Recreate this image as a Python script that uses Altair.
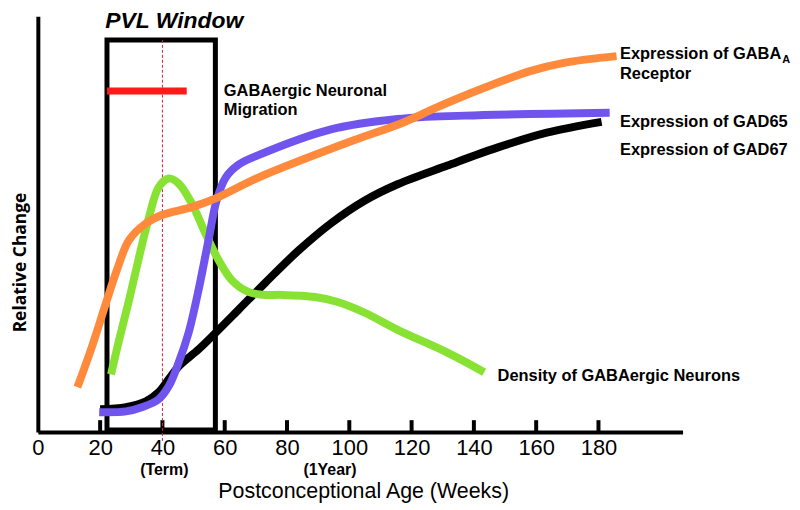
import altair as alt
import pandas as pd

# ---- data (x: postconceptional age in weeks, y: relative change 0-100) ----
gaba_a_x = [12.7, 17.4, 21.9, 25.4, 29.3, 34.7, 39.8, 49.4, 57.1, 70.8, 101.2, 115.5, 126.1, 131.5, 147.5, 158.0, 168.9, 185.8]
gaba_a_y = [10.8, 20.6, 31.1, 39.0, 46.2, 50.2, 52.2, 54.1, 56.2, 61.2, 70.1, 73.9, 77.4, 79.2, 84.0, 86.8, 88.8, 90.4]

gad65_x = [19.7, 28.3, 33.4, 38.8, 42.0, 45.2, 48.4, 51.6, 54.8, 57.4, 60.3, 64.4, 70.8, 94.1, 115.5, 136.9, 183.6]
gad65_y = [4.8, 5.0, 6.0, 7.9, 11.0, 16.7, 23.9, 34.2, 46.2, 55.7, 61.2, 64.3, 66.6, 72.8, 75.3, 76.1, 76.8]

gad67_x = [20.0, 28.3, 34.7, 38.8, 42.0, 45.2, 51.6, 57.1, 64.4, 73.0, 83.6, 94.1, 105.0, 115.5, 131.5, 147.5, 163.4, 181.0]
gad67_y = [5.5, 6.0, 7.4, 9.6, 12.7, 15.8, 19.9, 23.9, 29.4, 35.9, 43.6, 50.2, 55.7, 59.6, 64.1, 68.4, 72.0, 74.6]

density_x = [23.5, 26.1, 29.3, 32.5, 35.7, 38.8, 42.0, 45.2, 49.4, 53.8, 58.0, 62.2, 67.6, 72.4, 78.1, 89.0, 96.3, 105.0, 115.5, 131.5, 143.3]
density_y = [13.9, 22.2, 31.8, 42.1, 51.7, 58.9, 61.0, 59.8, 55.0, 47.8, 41.4, 36.6, 33.7, 33.0, 33.0, 32.5, 31.3, 28.7, 24.6, 19.1, 14.4]

tick_values = [20, 40, 60, 80, 100, 120, 140, 160, 180]
label_values = [0, 20, 40, 60, 80, 100, 120, 140, 160, 180]

pvl_window = {"x": 22.2, "x2": 57.0, "y": 0.5, "y2": 94.3}
migration = {"x": 22.2, "x2": 47.8, "y": 82.0}
term_week = 40

FONT = "Liberation Sans"
X_MAX = 207
W, H = 648, 418

xs = alt.Scale(domain=[0, X_MAX], nice=False, zero=False)
ys = alt.Scale(domain=[0, 100], nice=False, zero=False)

x_axis = alt.Axis(
    values=label_values, ticks=False, grid=False, domainWidth=4, domainColor="black",
    labelFont=FONT, labelFontSize=22, labelColor="black", labelPadding=5,
    labelFlush=False, labelOverlap=False,
    title="Postconceptional Age (Weeks)", titleFont=FONT, titleFontSize=21.5,
    titleFontWeight="normal", titleColor="black", titleX=327, titleY=60,
    titleBaseline="middle", titleAlign="center")

y_axis = alt.Axis(
    ticks=False, labels=False, grid=False, domainWidth=4, domainColor="black",
    title="Relative Change", titleFont="Open Sans", titleFontSize=17.5,
    titleFontWeight="bold", titleColor="black", titleAngle=270,
    titleX=-17, titleY=247, titleAlign="center", titleBaseline="middle")


def X(field="x"):
    return alt.X(f"{field}:Q", scale=xs, axis=x_axis)


def Y(field="y"):
    return alt.Y(f"{field}:Q", scale=ys, axis=y_axis)


def curve(xv, yv, color):
    df = pd.DataFrame({"x": xv, "y": yv})
    return alt.Chart(df).mark_line(
        color=color, strokeWidth=8, interpolate="catmull-rom", strokeCap="butt"
    ).encode(x=X(), y=Y())


ticks = alt.Chart(pd.DataFrame({"x": tick_values})).mark_rule(
    color="black", strokeWidth=4
).encode(x=X(), y=alt.value(H), y2=alt.value(H - 12))

box = alt.Chart(pd.DataFrame([pvl_window])).mark_rect(
    filled=False, stroke="black", strokeWidth=5
).encode(x=X(), x2="x2:Q", y=Y(), y2="y2:Q")

red_bar = alt.Chart(pd.DataFrame([migration])).mark_rule(
    color="#ff1a1a", strokeWidth=7
).encode(x=X(), x2="x2:Q", y=Y())

term_line = alt.Chart(pd.DataFrame({"x": [term_week], "y": [pvl_window["y2"]], "y2": [-2.4]})).mark_rule(
    color="#d0204a", strokeWidth=1, strokeDash=[3, 2]
).encode(x=X(), y=Y(), y2="y2:Q")

ann = pd.DataFrame([
    {"x": 43.8, "y": 98.8, "t": "PVL Window", "s": 23, "st": "italic", "al": "center"},
    {"x": 59.7, "y": 82.1, "t": "GABAergic Neuronal", "s": 16.5, "st": "normal", "al": "left"},
    {"x": 59.7, "y": 77.5, "t": "Migration", "s": 16.5, "st": "normal", "al": "left"},
    {"x": 186.9, "y": 90.9, "t": "Expression of GABA", "s": 16.5, "st": "normal", "al": "left"},
    {"x": 239.0, "y": 89.4, "t": "A", "s": 11, "st": "normal", "al": "left"},
    {"x": 186.9, "y": 86.1, "t": "Receptor", "s": 16.5, "st": "normal", "al": "left"},
    {"x": 186.9, "y": 74.6, "t": "Expression of GAD65", "s": 16.5, "st": "normal", "al": "left"},
    {"x": 186.9, "y": 67.9, "t": "Expression of GAD67", "s": 16.5, "st": "normal", "al": "left"},
    {"x": 147.6, "y": 13.6, "t": "Density of GABAergic Neurons", "s": 16.5, "st": "normal", "al": "left"},
    {"x": 40.6, "y": -9.1, "t": "(Term)", "s": 16, "st": "normal", "al": "center"},
    {"x": 93.8, "y": -9.1, "t": "(1Year)", "s": 16, "st": "normal", "al": "center"},
])

texts = []
for _, r in ann.iterrows():
    texts.append(
        alt.Chart(pd.DataFrame([r])).mark_text(
            font=FONT, fontWeight="bold", fontStyle=r["st"], fontSize=float(r["s"]),
            align=r["al"], baseline="middle", color="black"
        ).encode(x=X(), y=Y(), text="t:N")
    )

chart = alt.layer(
    box,
    ticks,
    term_line,
    red_bar,
    curve(gad67_x, gad67_y, "#000000"),
    curve(density_x, density_y, "#88e234"),
    curve(gad65_x, gad65_y, "#7054ee"),
    curve(gaba_a_x, gaba_a_y, "#ff8a3c"),
    *texts,
).properties(
    width=W, height=H,
    autosize=alt.AutoSizeParams(type="none"),
    padding={"left": 30, "top": 7, "right": 110, "bottom": 76},
).configure_view(stroke=None)

chart.save("out.html", embed_options={"renderer": "svg", "actions": False})
